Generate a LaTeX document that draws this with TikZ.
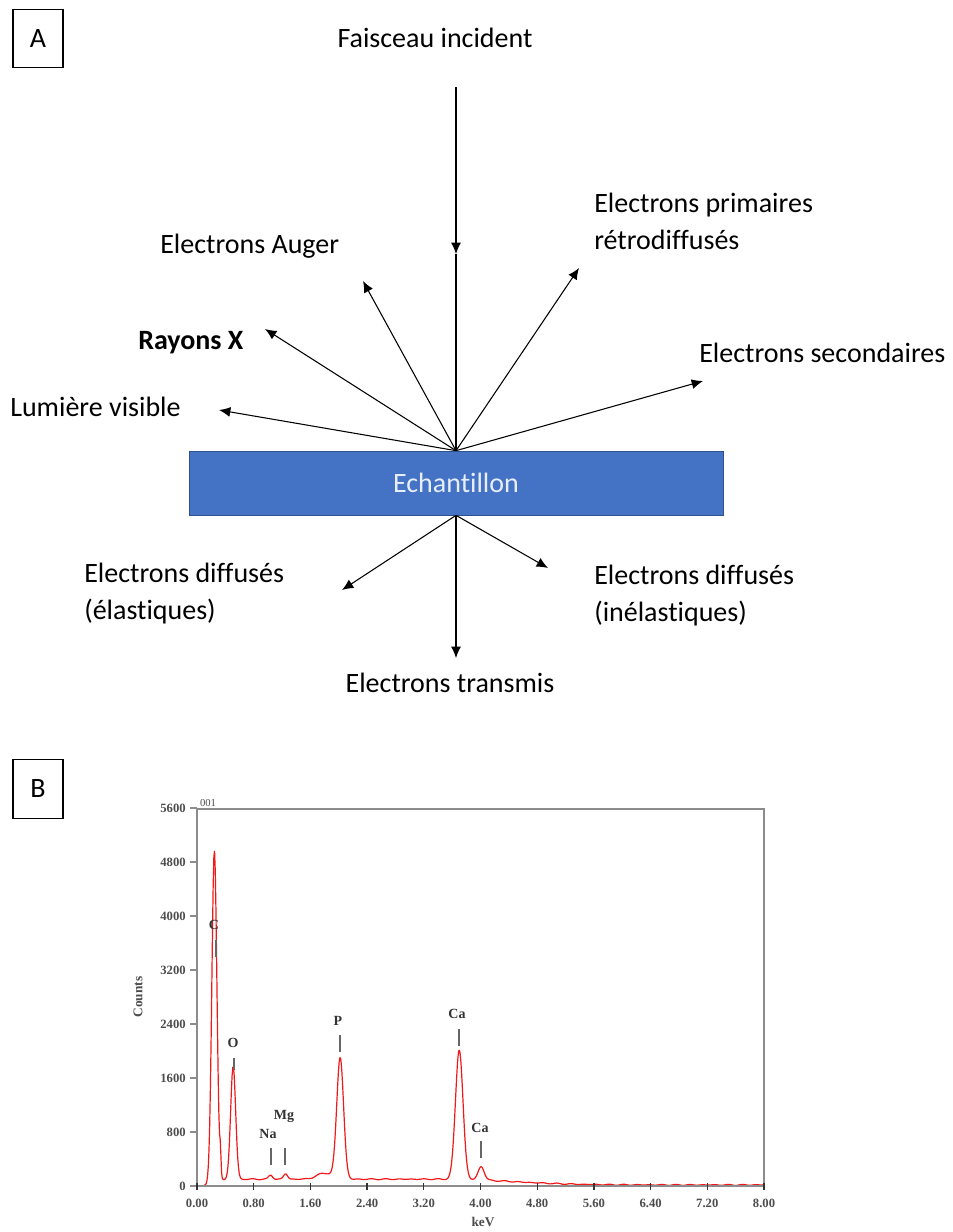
\documentclass[tikz,border=0pt]{standalone}
\usepackage{fontspec}
\setmainfont{Carlito}[Ligatures=NoCommon]
\newfontfamily\spfont{Liberation Serif}
\usetikzlibrary{arrows.meta}
\definecolor{sampleblue}{HTML}{4472C4}
\definecolor{sampleedge}{HTML}{2F528F}
\definecolor{samplefont}{HTML}{E8EEF8}
\definecolor{axisgray}{HTML}{8C8C8C}
\definecolor{specred}{HTML}{F01818}
\begin{document}
\begin{tikzpicture}[x=0.75pt,y=-0.75pt,
  lbl/.style={font=\fontsize{21}{27.75}\selectfont, inner sep=0pt, align=left},
  emit/.style={draw=black, line width=0.8pt, -{Latex[length=8.5pt,width=7.5pt]}},
  beam/.style={draw=black, line width=0.8pt},
  panel/.style={draw=black, line width=0.8pt, minimum width=37.5pt, minimum height=44pt, inner sep=0pt, font=\fontsize{21}{25}\selectfont},
  spl/.style={font=\spfont\bfseries\fontsize{10.5}{11}\selectfont, text=black!80, inner sep=0pt},
  ticklbl/.style={font=\spfont\bfseries\fontsize{9.5}{10}\selectfont, text=black!70, inner sep=0pt},
  axisline/.style={draw=axisgray, line width=1.1pt},
  pktick/.style={draw=black!60, line width=0.9pt},
  declare function={
    gg(\t)=exp(-(\t)*(\t));
    g(\x,\c,\w)=gg(min(abs((\x-\c)/\w),3));
    tl(\d)=exp(-min(0.6*\d*\d,8));
    bl(\x)=15+85*(1-exp(-min(8*max(\x-0.12,0),8)))*tl(max(\x-3.5,0));
    spec(\x)=bl(\x)+4900*g(\x,0.245,0.05)+300*g(\x,0.33,0.012)+1680*g(\x,0.51,0.05)
      +60*g(\x,1.04,0.04)+80*g(\x,1.25,0.04)+90*g(\x,1.8,0.15)+1800*g(\x,2.02,0.068)
      +1920*g(\x,3.70,0.075)+200*g(\x,4.01,0.06)+5*sin(\x*1931)+3*sin(\x*1499+40);
  }
]
\useasboundingbox (0,0) rectangle (953,1232);

% ---------------- Panel A ----------------
\node[panel] (pa) at (38,38.5) {A};

\node[fill=sampleblue, draw=sampleedge, line width=0.5pt, minimum width=400.5pt, minimum height=48pt, inner sep=0pt,
      font=\fontsize{21}{25}\selectfont, text=samplefont] (sample) at (456,483) {Echantillon};

\node[lbl, anchor=base] (incident) at (435,47) {Faisceau incident};
\node[lbl, anchor=base west] (retro) at (594,249) {Electrons primaires\\rétrodiffusés};
\node[lbl, anchor=base west] (auger) at (160,253) {Electrons Auger};
\node[lbl, anchor=base west, font=\bfseries\fontsize{21}{27.75}\selectfont] (rx) at (138,349) {Rayons X};
\node[lbl, anchor=base west] (second) at (699,362) {Electrons secondaires};
\node[lbl, anchor=base west] (lum) at (10,416) {Lumière visible};
\node[lbl, anchor=base west] (elas) at (84,619) {Electrons diffusés\\(élastiques)};
\node[lbl, anchor=base west] (inelas) at (594,621) {Electrons diffusés\\(inélastiques)};
\node[lbl, anchor=base] (trans) at (450,692) {Electrons transmis};

\coordinate (beamtop) at (456,87);
\coordinate (beammid) at (456,254);
\coordinate (tAuger) at (363,281);
\coordinate (tRX) at (265,329);
\coordinate (tLum) at (219,410);
\coordinate (tRetro) at (579,268);
\coordinate (tSec) at (703,381);
\coordinate (tElas) at (342,590);
\coordinate (tInel) at (548,568);
\coordinate (tTrans) at (456,658);

\draw[emit] (beamtop) -- (beammid);
\draw[beam] (beammid) -- (sample.north);
\draw[emit] (sample.north) -- (tAuger);
\draw[emit] (sample.north) -- (tRX);
\draw[emit] (sample.north) -- (tLum);
\draw[emit] (sample.north) -- (tRetro);
\draw[emit] (sample.north) -- (tSec);
\draw[emit] (sample.south) -- (tElas);
\draw[emit] (sample.south) -- (tInel);
\draw[emit] (sample.south) -- (tTrans);

% ---------------- Panel B ----------------
\node[panel] (pb) at (38,789) {B};

% spectrum
\draw[specred, line width=0.9pt, line join=round] plot[domain=0.1:8, samples=800, variable=\x]
   ({197+70.875*\x},{1186-0.0675*spec(\x)});

% frame
\draw[axisline] (197,809) rectangle (764,1186);

% y ticks
\foreach \v/\t [count=\i] in {0/0,800/800,1600/1600,2400/2400,3200/3200,4000/4000,4800/4800,5600/5600}{
  \draw[axisline, line width=0.9pt] (190,{1186-0.0675*\v}) -- (197,{1186-0.0675*\v});
  \node[ticklbl, anchor=east] (yl\i) at (186,{1186-0.0675*\v}) {\t};
}
% x ticks
\foreach \k/\t in {0/0.00,1/0.80,2/1.60,3/2.40,4/3.20,5/4.00,6/4.80,7/5.60,8/6.40,9/7.20,10/8.00}{
  \draw[draw=black!80, line width=1pt] ({197+56.7*\k},1183) -- ({197+56.7*\k},1190);
  \node[ticklbl] (xl\k) at ({197+56.7*\k},1203) {\t};
}

\node[ticklbl, font=\spfont\bfseries\fontsize{10}{10}\selectfont] (kev) at (483,1222) {keV};
\node[ticklbl, rotate=90, font=\spfont\bfseries\fontsize{10}{10}\selectfont] (counts) at (138,997) {Counts};
\node[ticklbl, font=\spfont\fontsize{8}{8}\selectfont] (n001) at (208,803) {001};

% peak labels
\node[spl] (lC) at (214,925) {C};
\draw[pktick] (216,940) -- (216,957);
\node[spl] (lO) at (233,1043) {O};
\draw[pktick] (234,1058) -- (234,1070);
\node[spl] (lNa) at (268,1134) {Na};
\draw[pktick] (271,1148) -- (271,1165);
\node[spl] (lMg) at (284,1116) {Mg};
\draw[pktick] (285,1148) -- (285,1165);
\node[spl] (lP) at (338,1021) {P};
\draw[pktick] (340,1035) -- (340,1052);
\node[spl] (lCa) at (457,1014) {Ca};
\draw[pktick] (459,1029) -- (459,1046);
\node[spl] (lCa2) at (480,1128) {Ca};
\draw[pktick] (481,1141) -- (481,1158);
\end{tikzpicture}
\end{document}
